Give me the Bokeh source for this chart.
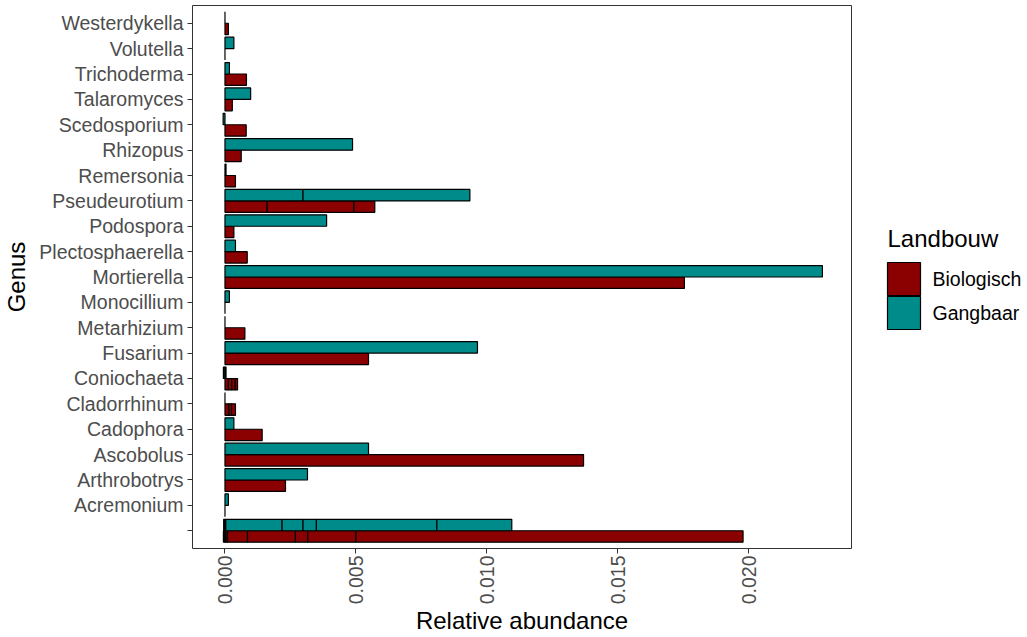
import math
from bokeh.plotting import figure
from bokeh.layouts import row
from bokeh.models import ColumnDataSource, FactorRange, FixedTicker, NumeralTickFormatter, Range1d
from bokeh.transform import dodge
from bokeh.core.properties import value
from bokeh.embed import file_html
from bokeh.resources import INLINE

# Genera, bottom to top (as drawn)
genera = [" ", "Acremonium", "Arthrobotrys", "Ascobolus", "Cadophora", "Cladorrhinum",
          "Coniochaeta", "Fusarium", "Metarhizium", "Monocillium", "Mortierella",
          "Plectosphaerella", "Podospora", "Pseudeurotium", "Remersonia", "Rhizopus",
          "Scedosporium", "Talaromyces", "Trichoderma", "Volutella", "Westerdykella"]

# Stacked OTU segments per genus (relative abundance)
biologisch = [
    [-0.00006, 0.00004, 0.00006, 0.00076, 0.00183, 0.00047, 0.00184, 0.01478],  # (blank)
    [0.0],                                   # Acremonium
    [0.00231],                               # Arthrobotrys
    [0.01369],                               # Ascobolus
    [0.00142],                               # Cadophora
    [0.00015, 0.00010, 0.00015],             # Cladorrhinum
    [0.00013, 0.00013, 0.00013, 0.00009],    # Coniochaeta
    [0.00548],                               # Fusarium
    [0.00076],                               # Metarhizium
    [0.0],                                   # Monocillium
    [0.01754],                               # Mortierella
    [0.00085],                               # Plectosphaerella
    [0.00034],                               # Podospora
    [0.00161, 0.00331, 0.00080],             # Pseudeurotium
    [0.00040],                               # Remersonia
    [0.00062],                               # Rhizopus
    [0.00081],                               # Scedosporium
    [0.00028],                               # Talaromyces
    [0.00082],                               # Trichoderma
    [0.0],                                   # Volutella
    [0.00013],                               # Westerdykella
]
gangbaar = [
    [-0.00005, 0.00003, 0.00215, 0.00080, 0.00051, 0.00460, 0.00286],  # (blank)
    [0.00013],                               # Acremonium
    [0.00315],                               # Arthrobotrys
    [0.00548],                               # Ascobolus
    [0.00034],                               # Cadophora
    [0.0],                                   # Cladorrhinum
    [-0.00006, 0.00004],                     # Coniochaeta
    [0.00964],                               # Fusarium
    [0.0],                                   # Metarhizium
    [0.00017],                               # Monocillium
    [0.02281],                               # Mortierella
    [0.00040],                               # Plectosphaerella
    [0.00388],                               # Podospora
    [0.00298, 0.00637],                      # Pseudeurotium
    [0.00004],                               # Remersonia
    [0.00487],                               # Rhizopus
    [-0.00007],                              # Scedosporium
    [0.00098],                               # Talaromyces
    [0.00017],                               # Trichoderma
    [0.00034],                               # Volutella
    [0.0],                                   # Westerdykella
]
treatments = ["Biologisch", "Gangbaar"]
colors = ["#8B0000", "#008B8B"]
legend_title = "Landbouw"
x_ticks = [0.0, 0.005, 0.010, 0.015, 0.020]


def stack(segments):
    g, l, r = [], [], []
    for genus, segs in zip(genera, segments):
        pos, neg = 0.0, 0.0
        for v in segs:
            if v >= 0:
                l.append(pos); r.append(pos + v); pos += v
            else:
                r.append(neg); l.append(neg + v); neg += v
            g.append(genus)
    return ColumnDataSource(dict(genus=g, left=l, right=r))


font = "Liberation Sans"
FW, FH = 659, 543
H = 637
TOP = 5
y_range = FactorRange(factors=genera, range_padding=0.2, range_padding_units="absolute")
p = figure(y_range=y_range, x_range=Range1d(-0.00124, 0.02392),
           frame_width=FW, frame_height=FH, output_backend="svg",
           toolbar_location=None, min_border_top=TOP, min_border_bottom=0,
           min_border_left=192, min_border_right=1)

for segs, off, col in zip([biologisch, gangbaar], [-0.225, 0.225], colors):
    p.hbar(y=dodge("genus", off, range=p.y_range), left="left", right="right",
           height=0.45, source=stack(segs), fill_color=col, line_color="black",
           line_width=1.2)

p.xgrid.visible = False
p.ygrid.visible = False
p.outline_line_color = "#333333"
p.outline_line_width = 1
p.background_fill_color = "white"
p.border_fill_color = "white"

for ax in (p.xaxis, p.yaxis):
    ax.axis_line_color = None
    ax.major_tick_out = 5
    ax.major_tick_in = 0
    ax.minor_tick_line_color = None
    ax.major_tick_line_color = "#333333"
    ax.major_label_text_font = font
    ax.major_label_text_font_size = "19.5px"
    ax.major_label_text_color = "#4D4D4D"
    ax.axis_label_text_font = font
    ax.axis_label_text_font_size = "24px"
    ax.axis_label_text_font_style = "normal"
    ax.axis_label_text_color = "black"

p.xaxis.ticker = FixedTicker(ticks=x_ticks)
p.xaxis.formatter = NumeralTickFormatter(format="0.000")
p.xaxis.major_label_orientation = math.pi / 2
p.xaxis.major_label_standoff = 2
p.xaxis.axis_label = "Relative abundance"
p.xaxis.axis_label_standoff = 0
p.yaxis.axis_label = "Genus"
p.yaxis.major_label_standoff = 4
p.yaxis.axis_label_standoff = 6

# Legend panel (ggplot-style keys drawn adjacent); its frame is aligned with the
# main frame, so the y range is set to page pixels of that frame.
LW = 1027 - (192 + FW + 1)
lg = figure(frame_width=LW, frame_height=FH, x_range=Range1d(0, LW),
            y_range=Range1d(TOP + FH, TOP), output_backend="svg",
            toolbar_location=None, min_border_left=0, min_border_right=0,
            min_border_top=TOP, min_border_bottom=H - TOP - FH)
lg.axis.visible = False
lg.grid.visible = False
lg.outline_line_color = None
lg.border_fill_color = "white"
lg.background_fill_color = "white"

key_left, key_size, key_top = 35, 33, 262
tops = [key_top + i * (key_size + 1) for i in range(len(treatments))]
lg.quad(left=key_left, right=key_left + key_size, top=tops,
        bottom=[t + key_size for t in tops], fill_color=colors, line_color="black",
        line_width=1.2)
lg.text(x=[key_left + key_size + 12] * len(treatments),
        y=[t + key_size / 2 for t in tops], text=treatments,
        text_font=value(font), text_font_size="19.5px", text_baseline="middle",
        text_color="black")
lg.text(x=[key_left], y=[238], text=[legend_title], text_font=value(font),
        text_font_size="24px", text_baseline="middle", text_color="black")

layout = row(p, lg)
open("out.html", "w").write(file_html(layout, INLINE))
